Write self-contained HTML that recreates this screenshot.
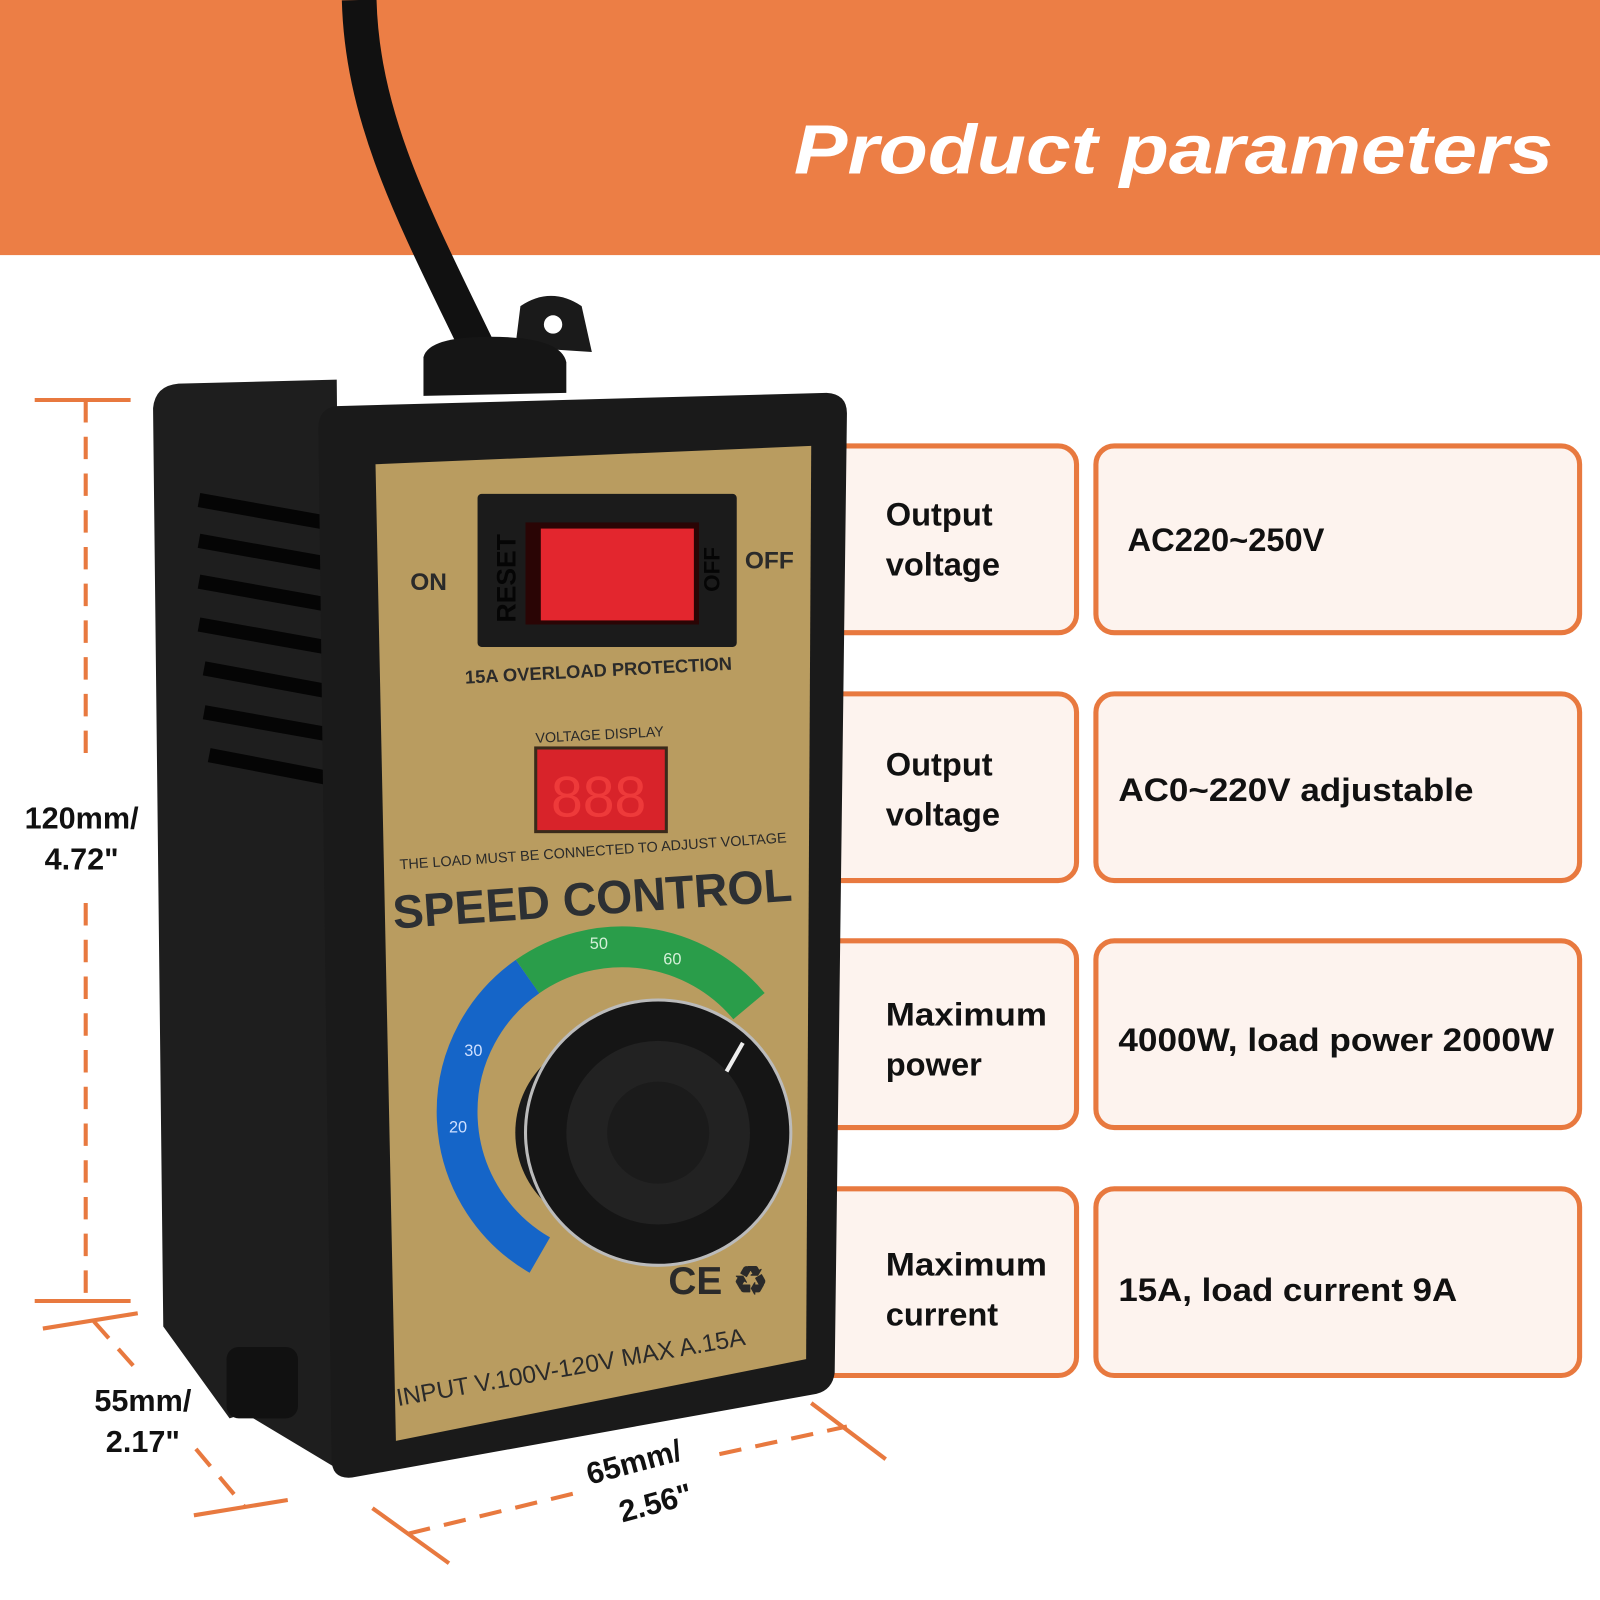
<!DOCTYPE html>
<html><head><meta charset="utf-8"><style>
html,body{margin:0;padding:0;background:#fff;}
svg{display:block;}
text{font-family:"Liberation Sans",sans-serif;}
</style></head><body>
<svg width="1600" height="1600" viewBox="0 0 1568 1568" xmlns="http://www.w3.org/2000/svg">
<rect x="0" y="0" width="1568" height="250" fill="#ec7e45"/>
<text x="778" y="170" textLength="744" lengthAdjust="spacingAndGlyphs" font-size="68" font-weight="bold" font-style="italic" fill="#fff">Product parameters</text>

<g fill="#fdf3ee" stroke="#e8793f" stroke-width="5">
<rect x="790" y="437" width="265" height="183" rx="18"/>
<rect x="1074" y="437" width="474" height="183" rx="18"/>
<rect x="790" y="680" width="265" height="183" rx="18"/>
<rect x="1074" y="680" width="474" height="183" rx="18"/>
<rect x="790" y="922" width="265" height="183" rx="18"/>
<rect x="1074" y="922" width="474" height="183" rx="18"/>
<rect x="790" y="1165" width="265" height="183" rx="18"/>
<rect x="1074" y="1165" width="474" height="183" rx="18"/>
</g>
<g font-size="32" font-weight="bold" fill="#111">
<text x="868" y="515">Output</text><text x="868" y="564">voltage</text>
<text x="1105" y="540">AC220~250V</text>
<text x="868" y="760">Output</text><text x="868" y="809">voltage</text>
<text x="1096" y="785" textLength="348" lengthAdjust="spacingAndGlyphs">AC0~220V adjustable</text>
<text x="868" y="1005" textLength="158" lengthAdjust="spacingAndGlyphs">Maximum</text><text x="868" y="1054">power</text>
<text x="1096" y="1030" textLength="427" lengthAdjust="spacingAndGlyphs">4000W, load power 2000W</text>
<text x="868" y="1250" textLength="158" lengthAdjust="spacingAndGlyphs">Maximum</text><text x="868" y="1299">current</text>
<text x="1096" y="1275" textLength="332" lengthAdjust="spacingAndGlyphs">15A, load current 9A</text>
</g>

<path d="M352 0 C355 120 410 220 470 345" stroke="#111" stroke-width="34" fill="none"/>
<path d="M505 340 L510 300 Q540 280 570 300 L580 345 Z" fill="#1a1a1a"/>
<circle cx="542" cy="318" r="9" fill="#fff"/>
<path d="M415 350 Q420 330 480 330 Q550 330 555 355 L555 385 L415 388 Z" fill="#151515"/>
<path d="M150 400 Q152 378 175 376 L330 372 L340 1445 L240 1385 L225 1390 L160 1300 Z" fill="#1e1e1e"/>
<g stroke="#050505" stroke-width="14">
<line x1="195" y1="490" x2="335" y2="515"/>
<line x1="195" y1="530" x2="335" y2="555"/>
<line x1="195" y1="570" x2="335" y2="595"/>
<line x1="195" y1="612" x2="335" y2="637"/>
<line x1="200" y1="655" x2="335" y2="680"/>
<line x1="200" y1="698" x2="335" y2="722"/>
<line x1="205" y1="740" x2="335" y2="765"/>
</g>
<rect x="222" y="1320" width="70" height="70" rx="12" fill="#111"/>
<path d="M330 398 L810 385 Q830 386 830 405 L818 1345 Q816 1362 800 1366 L345 1448 Q325 1450 325 1430 L312 420 Q312 400 330 398 Z" fill="#1a1a1a"/>
<path d="M368 455 L795 437 L790 1332 L388 1412 Z" fill="#b99c60"/>
<rect x="468" y="484" width="254" height="150" rx="4" fill="#1b1b1b"/>
<rect x="515" y="512" width="170" height="100" fill="#2a0505"/>
<rect x="530" y="518" width="150" height="90" fill="#e3262e"/>
<text x="505" y="610" transform="rotate(-90 505 610)" font-size="26" font-weight="bold" fill="#050505">RESET</text>
<text x="705" y="580" transform="rotate(-90 705 580)" font-size="22" font-weight="bold" fill="#050505">OFF</text>
<text x="402" y="578" font-size="24" font-weight="bold" fill="#2a2a2a">ON</text>
<text x="730" y="557" font-size="24" font-weight="bold" fill="#2a2a2a">OFF</text>
<text x="456" y="670" font-size="18" font-weight="bold" fill="#2a2a2a" transform="rotate(-3 456 670)" textLength="262" lengthAdjust="spacingAndGlyphs">15A OVERLOAD PROTECTION</text>
<text x="525" y="728" font-size="14" fill="#2a2a2a" transform="rotate(-3 525 728)">VOLTAGE DISPLAY</text>
<rect x="525" y="733" width="128" height="82" fill="#d8232a" stroke="#3a2a1a" stroke-width="3"/>
<text x="540" y="800" font-size="56" fill="#ee3a3a" font-family="Liberation Mono">888</text>
<text x="392" y="852" font-size="14" fill="#2a2a2a" transform="rotate(-4 392 852)" textLength="380" lengthAdjust="spacingAndGlyphs">THE LOAD MUST BE CONNECTED TO ADJUST VOLTAGE</text>
<text x="386" y="910" font-size="46" font-weight="bold" fill="#2d3033" transform="rotate(-4 386 910)" textLength="392" lengthAdjust="spacingAndGlyphs">SPEED CONTROL</text>
<!-- dial ring -->
<path d="M529 1230 A162 162 0 0 1 517 957" stroke="#1565c8" stroke-width="40" fill="none"/>
<path d="M517 957 A162 162 0 0 1 734 986" stroke="#2a9d4a" stroke-width="40" fill="none"/>
<text x="578" y="930" font-size="16" fill="#d4f0d8">50</text>
<text x="650" y="945" font-size="16" fill="#d4f0d8">60</text>
<text x="455" y="1035" font-size="16" fill="#cfe0ff">30</text>
<text x="440" y="1110" font-size="16" fill="#cfe0ff">20</text>
<circle cx="600" cy="1110" r="95" fill="#1a1a1a"/>
<circle cx="645" cy="1110" r="130" fill="#151515" stroke="#bbb" stroke-width="3"/>
<circle cx="645" cy="1110" r="90" fill="#222"/>
<circle cx="645" cy="1110" r="50" fill="#1b1b1b"/>
<line x1="712" y1="1050" x2="728" y2="1022" stroke="#eee" stroke-width="4"/>
<text x="655" y="1268" font-size="38" font-weight="bold" fill="#2a2a2a">CE ♻</text>
<text x="390" y="1378" font-size="24" fill="#2a2a2a" transform="rotate(-10 390 1378)">INPUT V.100V-120V  MAX A.15A</text>

<g stroke="#e8793f" stroke-width="4" fill="none">
<line x1="34" y1="392" x2="128" y2="392"/>
<line x1="34" y1="1275" x2="128" y2="1275"/>
<line x1="84" y1="392" x2="84" y2="740" stroke-dasharray="22,14"/>
<line x1="84" y1="885" x2="84" y2="1275" stroke-dasharray="22,14"/>
<line x1="42" y1="1302" x2="135" y2="1287"/>
<line x1="190" y1="1485" x2="282" y2="1470"/>
<line x1="92" y1="1295" x2="132" y2="1340" stroke-dasharray="22,14"/>
<line x1="192" y1="1420" x2="240" y2="1477" stroke-dasharray="22,14"/>
<line x1="365" y1="1478" x2="440" y2="1532"/>
<line x1="795" y1="1375" x2="868" y2="1430"/>
<line x1="400" y1="1503" x2="565" y2="1463" stroke-dasharray="22,14"/>
<line x1="705" y1="1425" x2="830" y2="1398" stroke-dasharray="22,14"/>
</g>
<g font-size="30" font-weight="bold" fill="#111">
<text x="80" y="812" text-anchor="middle">120mm/</text>
<text x="80" y="852" text-anchor="middle">4.72"</text>
<text x="140" y="1383" text-anchor="middle">55mm/</text>
<text x="140" y="1423" text-anchor="middle">2.17"</text>
<text x="578" y="1455" transform="rotate(-15 578 1455)">65mm/</text>
<text x="610" y="1492" transform="rotate(-15 610 1492)">2.56"</text>
</g>
</svg>
</body></html>
